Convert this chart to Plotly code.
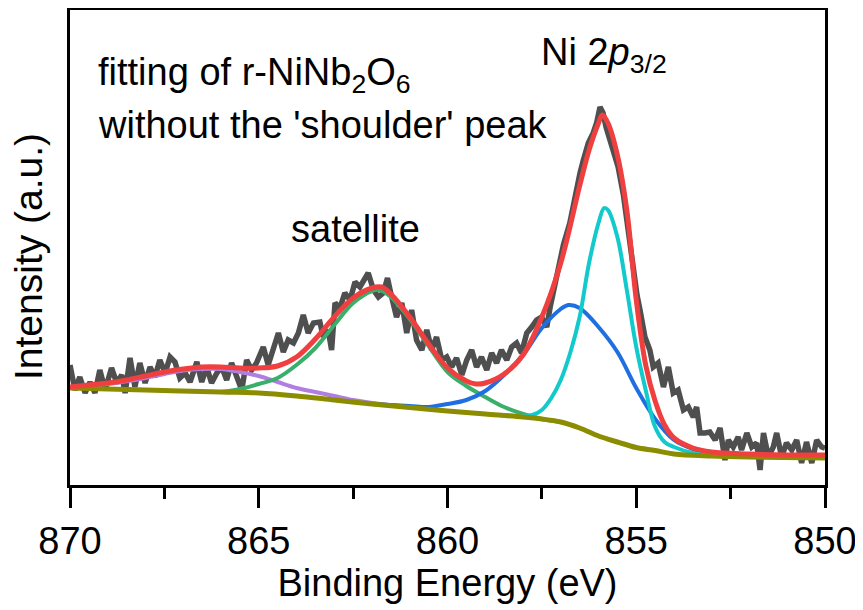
import plotly.graph_objects as go

# ---------------- data (intensity in arbitrary units) ----------------
raw_E = [870.00, 869.87, 869.74, 869.60, 869.47, 869.34, 869.21, 869.07, 868.90, 868.76,
         868.63, 868.54, 868.41, 868.28, 868.15, 868.01, 867.88, 867.75, 867.62, 867.48,
         867.35, 867.22, 867.09, 866.95, 866.82, 866.64, 866.51, 866.38, 866.25, 866.11,
         865.98, 865.85, 865.72, 865.58, 865.45, 865.32, 865.19, 865.06, 864.88, 864.75,
         864.61, 864.48, 864.35, 864.22, 864.08, 863.95, 863.82, 863.69, 863.55, 863.38,
         863.29, 863.16, 863.07, 862.98, 862.85, 862.72, 862.58, 862.45, 862.32, 862.19,
         862.10, 861.96, 861.83, 861.70, 861.59, 861.48, 861.35, 861.21, 861.08, 860.95,
         860.82, 860.68, 860.55, 860.42, 860.29, 860.15, 860.02, 859.89, 859.76, 859.62,
         859.49, 859.36, 859.23, 859.10, 858.96, 858.83, 858.70, 858.57, 858.43, 858.30,
         858.17, 858.04, 857.90, 857.77, 857.64, 857.51, 857.37, 857.28,
         857.11, 856.93, 856.76, 856.62, 856.49, 856.40, 856.27, 856.14, 856.05, 855.96,
         855.88, 855.80, 855.70, 855.61, 855.48, 855.34, 855.21, 855.08, 854.98,
         854.90, 854.77, 854.64, 854.55, 854.42, 854.28, 854.15, 854.02, 853.89, 853.75,
         853.62, 853.49, 853.40, 853.31, 853.18, 853.05, 852.91, 852.78, 852.65, 852.56,
         852.43, 852.30, 852.21, 852.07, 851.94, 851.81, 851.72, 851.63, 851.50, 851.37,
         851.28, 851.15, 851.02, 850.88, 850.75, 850.62, 850.49, 850.35, 850.22, 850.09,
         850.00]
raw_I = [120, 95, 108, 92, 103, 92, 115, 95, 117, 102,
         110, 92, 127, 98, 122, 102, 118, 108, 125, 112,
         128, 123, 107, 112, 103, 123, 103, 118, 102, 112,
         118, 105, 122, 108, 95, 125, 115, 122, 138, 120,
         135, 152, 133, 145, 142, 152, 170, 152, 162, 163,
         148, 155, 135, 182, 177, 192, 185, 203, 198, 205,
         212, 195, 188, 192, 207, 188, 168, 182, 152, 175,
         145, 135, 155, 135, 148, 125, 128, 118, 127, 110,
         125, 135, 118, 128, 115, 132, 122, 135, 125, 138,
         142, 132, 152, 158, 165, 168, 158, 178,
         208, 240, 262, 292, 312, 325, 342, 352, 362, 378,
         372, 358, 345, 336, 318, 290, 255, 212, 190,
         175, 148, 135, 118, 122, 98, 118, 92, 95, 75,
         78, 68, 78, 52, 52, 53, 45, 57, 25, 45,
         38, 48, 35, 52, 38, 42, 15, 52, 28, 38,
         52, 28, 42, 35, 45, 22, 43, 22, 45, 38,
         37]

env_E = [870, 869.5, 869, 868.5, 868, 867.5, 867, 866.5, 866, 865.5, 865, 864.5, 864, 863.5,
         863, 862.5, 862, 861.75, 861.5, 861, 860.5, 860, 859.5, 859.25, 859, 858.5, 858,
         857.5, 857, 856.5, 856.25, 856, 855.9, 855.75, 855.5, 855.25, 855, 854.75, 854.5,
         854.25, 854, 853.5, 853, 852, 851, 850]
env_I = [98, 100, 102, 105, 109, 113, 116, 118, 118, 117, 117, 119, 128, 146,
         168, 187, 197, 198, 191, 168, 141, 117, 104, 101, 102, 111, 130,
         168, 222, 299, 335, 362, 370, 362, 330, 275, 185, 120, 84,
         60, 47, 37, 33, 31, 30, 30]

bg_E = [870, 868, 866, 865, 864, 863, 862, 861, 860, 859, 858, 857.5, 857, 856.5, 856,
        855.5, 855, 854.5, 854, 853, 852, 850]
bg_I = [97, 95, 93, 92, 89, 85, 81, 77.5, 74, 71, 68, 66, 63, 57, 49, 43, 37.5, 34.5, 31, 29, 28, 27]

cy_E = [858.5, 858, 857.75, 857.5, 857.25, 857, 856.75, 856.5, 856.25, 856, 855.85, 855.75,
        855.5, 855.25, 855, 854.75, 854.5, 854.25, 854, 853.5, 853, 852]
cy_I = [70, 69, 70, 75, 87, 105, 132, 168, 222, 262, 277, 275,
        248, 195, 138, 95, 58, 43, 38, 32, 30, 28]

bl_E = [862, 861, 860.5, 860, 859.5, 859, 858.5, 858, 857.5, 857, 856.8, 856.5, 856, 855.5,
        855, 854.5, 854, 853.5, 853, 852]
bl_I = [81, 79, 78, 81, 85, 94, 110, 130, 157, 176, 180, 177, 158, 133,
        97, 66, 45, 36, 31, 28]

gr_E = [866, 865.5, 865, 864.5, 864, 863.5, 863, 862.5, 862, 861.8, 861.5, 861, 860.5, 860,
        859.5, 859, 858.5, 858, 857.5, 857]
gr_I = [93, 96, 101, 107, 120, 137, 160, 182, 194, 195, 188, 166, 139, 113,
        99, 88, 78, 71, 66, 63]

pu_E = [870, 869, 868, 867.5, 867, 866.5, 866, 865.5, 865, 864.5, 864, 863.5, 863, 862.5, 862, 861]
pu_I = [98, 101, 107, 111, 114.5, 116, 116, 113, 109, 103, 97, 93, 89, 85, 82, 78]

x_ticks = [870, 865, 860, 855, 850]

# ---------------- figure ----------------
FONT = "Arial, Liberation Sans, sans-serif"
FS = 38
fig = go.Figure()

def smooth(x, y, color, width):
    fig.add_trace(go.Scatter(x=x, y=y, mode="lines",
                             line=dict(color=color, width=width, shape="spline", smoothing=1.0),
                             hoverinfo="skip", showlegend=False))

fig.add_trace(go.Scatter(x=raw_E, y=raw_I, mode="lines",
                         line=dict(color="#4f4f4f", width=5.5),
                         hoverinfo="skip", showlegend=False))
smooth(pu_E, pu_I, "#b07ee0", 4)
smooth(gr_E, gr_I, "#3aae6b", 4)
smooth(bl_E, bl_I, "#1f6fe0", 4)
smooth(cy_E, cy_I, "#12c9cb", 4)
smooth(bg_E, bg_I, "#8c8c00", 5)
smooth(env_E, env_I, "#ef3f3f", 5)

fig.add_annotation(x=869.3, y=410, xref="x", yref="y", xanchor="left", yanchor="middle",
                   text="fitting of r-NiNb<sub>2</sub>O<sub>6</sub>", showarrow=False,
                   font=dict(family=FONT, size=FS, color="black"))
fig.add_annotation(x=869.3, y=360, xref="x", yref="y", xanchor="left", yanchor="middle",
                   text="without the 'shoulder' peak", showarrow=False,
                   font=dict(family=FONT, size=FS, color="black"))
fig.add_annotation(x=862.45, y=256, xref="x", yref="y", xanchor="center", yanchor="middle",
                   text="satellite", showarrow=False,
                   font=dict(family=FONT, size=FS, color="black"))
fig.add_annotation(x=855.85, y=430, xref="x", yref="y", xanchor="center", yanchor="middle",
                   text="Ni 2<i>p</i><sub>3/2</sub>", showarrow=False,
                   font=dict(family=FONT, size=FS, color="black"))
# y-axis title placed as a rotated annotation so its vertical position matches
fig.add_annotation(x=0, y=228, xref="paper", yref="y", xanchor="center", yanchor="middle",
                   xshift=-42, textangle=-90, text="Intensity (a.u.)", showarrow=False,
                   font=dict(family=FONT, size=39, color="black"))

# the page body adds an 8 px offset; margins compensate so the frame sits at 70..825 x 10..485
fig.update_layout(
    width=863, height=610, autosize=False,
    margin=dict(l=62, r=46, t=2, b=133),
    paper_bgcolor="white", plot_bgcolor="white",
    font=dict(family=FONT, color="black"),
)
fig.update_xaxes(
    range=[870, 850], tickvals=x_ticks, ticktext=[str(v) for v in x_ticks],
    ticks="outside", ticklen=20, tickwidth=3, tickcolor="black",
    minor=dict(tickvals=[867.5, 862.5, 857.5, 852.5], ticks="outside", ticklen=11,
               tickwidth=3, tickcolor="black"),
    showline=True, linewidth=3, linecolor="black", mirror=True,
    showgrid=False, zeroline=False, automargin=False,
    tickfont=dict(family=FONT, size=FS, color="black"),
    title=dict(text="Binding Energy (eV)", font=dict(family=FONT, size=FS, color="black"),
               standoff=4),
)
fig.update_yaxes(
    range=[0, 475], showticklabels=False, ticks="",
    showline=True, linewidth=3, linecolor="black", mirror=True,
    showgrid=False, zeroline=False, automargin=False,
)

fig.write_html("out.html")
